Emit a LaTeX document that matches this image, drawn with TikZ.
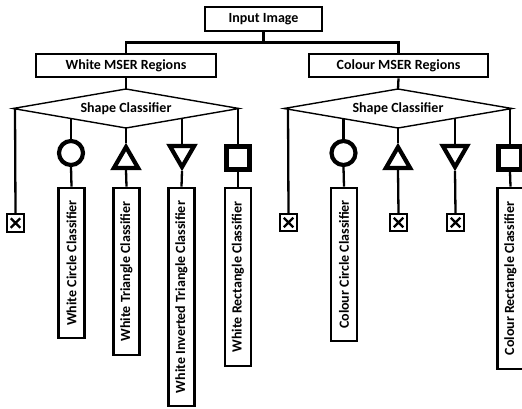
\documentclass[tikz,border=0pt]{standalone}
\usepackage{fontspec}
\setmainfont{Carlito}
\usetikzlibrary{shapes.geometric}
\begin{document}
\begin{tikzpicture}[x=1pt,y=-1pt,
  txt/.style={font=\bfseries\fontsize{14}{16}\selectfont},
  box/.style={draw,line width=2.8pt,txt,inner sep=0pt},
  vbox/.style={box,rotate=90,minimum height=26pt},
  diaedge/.style={draw,line width=1.4pt,line join=miter},
  conn/.style={line width=2.3pt},
  circ/.style={circle,draw,line width=4.2pt,minimum size=24pt,inner sep=0pt},
  triup/.style={regular polygon,regular polygon sides=3,draw,line width=4.2pt,minimum size=28pt,inner sep=0pt},
  tridn/.style={triup,regular polygon rotate=180},
  sq/.style={rectangle,draw,line width=5pt,minimum size=23pt,inner sep=0pt},
  xbox/.style={rectangle,draw,line width=1.7pt,minimum size=17.5pt,inner sep=0pt,
    path picture={\draw[line width=2.2pt]
      ([shift={(4pt,4pt)}]path picture bounding box.south west) -- ([shift={(-4pt,-4pt)}]path picture bounding box.north east)
      ([shift={(4pt,-4pt)}]path picture bounding box.north west) -- ([shift={(-4pt,4pt)}]path picture bounding box.south east);}}
]
\useasboundingbox (0,0) rectangle (522,409);
\clip (0,0) rectangle (522,409);

% top level
\node[box,minimum width=117pt,minimum height=24pt] (in) at (263.5,19) {Input Image};
\node[box,minimum width=180pt,minimum height=23pt] (wm) at (126,65.5) {White MSER Regions};
\node[box,minimum width=179pt,minimum height=23pt] (cm) at (398.5,65.5) {Colour MSER Regions};
\draw[conn] (in.south) -- ++(0,10) -| (wm.north);
\draw[conn] (in.south) ++(0,10) -| (cm.north);

% diamonds
\coordinate (dlT) at (126,89);   \coordinate (dlL) at (13,108.5);
\coordinate (dlB) at (126,128);  \coordinate (dlR) at (239,108.5);
\coordinate (drT) at (398,89);   \coordinate (drL) at (284,108.5);
\coordinate (drB) at (398,128);  \coordinate (drR) at (512,108.5);
\path[diaedge] (dlT) -- (dlR) -- (dlB) -- (dlL) -- cycle;
\path[diaedge] (drT) -- (drR) -- (drB) -- (drL) -- cycle;
\node[txt] (dl) at (126,108.5) {Shape Classifier};
\node[txt] (dr) at (398,108.5) {Shape Classifier};
\draw[conn] (wm.south) -- (dlT);
\draw[conn] (cm.south) -- (drT);

% edge points of the diamonds
\coordinate (dl1) at (15,108.5);  \coordinate (dl2) at (71,118.5);
\coordinate (dl4) at (182,118.3); \coordinate (dl5) at (238,108.5);
\coordinate (dr1) at (288,108.5); \coordinate (dr2) at (343.5,118.6);
\coordinate (dr4) at (455,118.3); \coordinate (dr5) at (510,108.5);

% ---- white branch
\node[xbox] (wx) at (15.5,223) {};
\node[circ] (wc) at (71,153) {};
\node[triup] (wt) at (126,161) {};
\node[tridn] (wi) at (182,153) {};
\node[sq] (wr) at (238,158) {};

\node[vbox,minimum width=150pt] (wcb) at (71.5,263) {White Circle Classifier};
\node[vbox,minimum width=167pt] (wtb) at (126.5,271.5) {White Triangle Classifier};
\node[vbox,minimum width=218pt] (wib) at (181.5,297) {White Inverted Triangle Classifier};
\node[vbox,minimum width=178pt] (wrb) at (238,277) {White Rectangle Classifier};

\draw[conn] (dl1) -- (wx.north);
\draw[conn] (dl2) -- (wc.north);
\draw[conn] (dlB) -- (wt.corner 1);
\draw[conn] (dl4) -- (wi.north);
\draw[conn] (dl5) -- (wr.north);
\draw[conn] (wc.south) -- (wcb.east);
\draw[conn] (wt.south) -- (wtb.east);
\draw[conn] (wi.corner 1) -- (wib.east);
\draw[conn] (wr.south) -- (wrb.east);

% ---- colour branch
\node[xbox] (cx) at (288.5,222.5) {};
\node[circ] (cc) at (343.5,153) {};
\node[triup] (ct) at (398,161) {};
\node[tridn] (ci) at (455,153) {};
\node[sq] (cr) at (510,158) {};

\node[vbox,minimum width=153pt] (ccb) at (344,264.5) {Colour Circle Classifier};
\node[xbox] (ctx) at (398.5,222.5) {};
\node[xbox] (cix) at (455.5,222.5) {};
\node[vbox,minimum width=181pt] (crb) at (510.5,278.5) {Colour Rectangle Classifier};

\draw[conn] (dr1) -- (cx.north);
\draw[conn] (dr2) -- (cc.north);
\draw[conn] (drB) -- (ct.corner 1);
\draw[conn] (dr4) -- (ci.north);
\draw[conn] (dr5) -- (cr.north);
\draw[conn] (cc.south) -- (ccb.east);
\draw[conn] (ct.south) -- (ctx.north);
\draw[conn] (ci.corner 1) -- (cix.north);
\draw[conn] (cr.south) -- (crb.east);
\end{tikzpicture}
\end{document}
